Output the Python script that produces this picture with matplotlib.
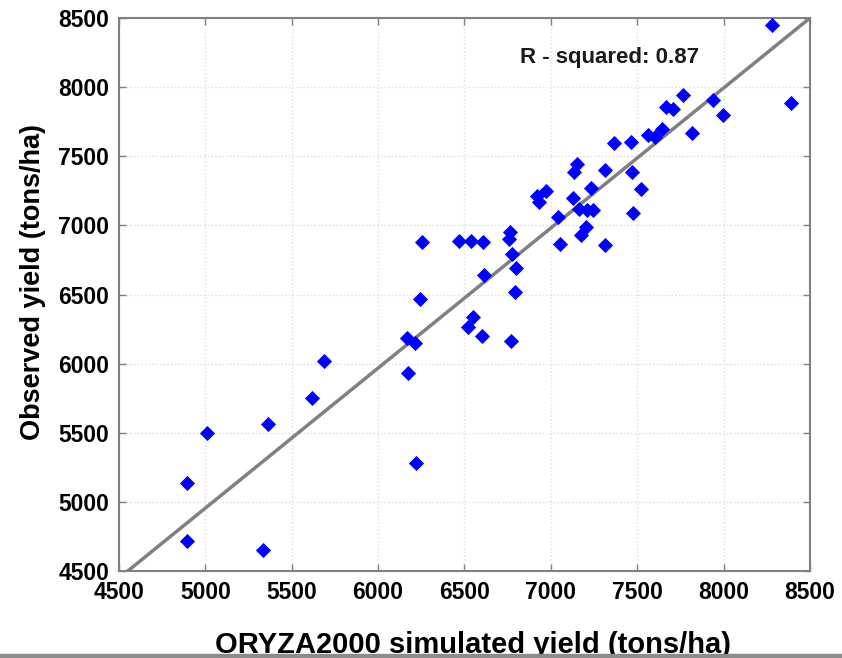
import numpy as np
import matplotlib
matplotlib.use('Agg')
import matplotlib.pyplot as plt
from matplotlib.patches import Rectangle

plt.rcParams['font.family'] = ['Liberation Sans', 'DejaVu Sans']

# simulated (x) vs observed (y) yield, tons/ha
simulated = [8278, 8390, 7940, 7998, 7765, 7668, 7705, 7815, 7642, 7564,
             7603, 7364, 7464, 7468, 7315, 7522, 7478, 7150, 7136, 6918,
             6933, 6974, 7130, 7234, 7041, 7165, 7207, 7246, 7205, 7174,
             7050, 7311, 6763, 6759, 6777, 6800, 6792, 6612, 6468, 6536,
             6605, 6255, 6242, 6548, 6520, 6604, 6767, 6169, 6213, 6171,
             5687, 5617, 5364, 5008, 4892, 4892, 5334, 6219]
observed = [8450, 7888, 7904, 7798, 7946, 7855, 7840, 7666, 7699, 7656,
            7638, 7597, 7601, 7384, 7400, 7264, 7090, 7445, 7385, 7210,
            7171, 7250, 7195, 7274, 7062, 7122, 7114, 7111, 6990, 6930,
            6868, 6858, 6955, 6905, 6796, 6692, 6518, 6641, 6887, 6887,
            6882, 6879, 6467, 6335, 6265, 6202, 6166, 6188, 6151, 5930,
            6021, 5751, 5565, 5500, 5139, 4717, 4652, 5279]

fit_slope = 1.013
fit_intercept = -110.0
r_squared = 0.87

xticks = [4500, 5000, 5500, 6000, 6500, 7000, 7500, 8000, 8500]
yticks = [4500, 5000, 5500, 6000, 6500, 7000, 7500, 8000, 8500]

fig = plt.figure(figsize=(8.42, 6.58), dpi=100)
ax = fig.add_axes([0.1413, 0.1322, 0.8207, 0.8404])

ax.grid(True, color='#dedede', linestyle=':', linewidth=1.0)
ax.set_axisbelow(True)

xl = np.array([4500, 8500])
ax.plot(xl, fit_slope * xl + fit_intercept, color='#808080', linewidth=2.5, zorder=2)
ax.plot(simulated, observed, linestyle='none', marker='D', markersize=6.8,
        color='#0000ff', markeredgecolor='#0000ff', markeredgewidth=0.6, zorder=3)

ax.set_xlim(4500, 8500)
ax.set_ylim(4500, 8500)
ax.set_xticks(xticks)
ax.set_yticks(yticks)
ax.tick_params(direction='in', top=True, right=True, length=5, width=1,
               color='#808080', labelsize=16.5, pad=7)
for lab in ax.get_xticklabels() + ax.get_yticklabels():
    lab.set_fontweight('bold')
for sp in ax.spines.values():
    sp.set_color('#808080')
    sp.set_linewidth(1.5)

ax.text(7337, 8211, 'R - squared: %.2f' % r_squared, ha='center', va='center',
        fontsize=16, fontweight='bold', color='#1a1a1a')

ax.set_xlabel('ORYZA2000 simulated yield (tons/ha)', fontsize=21, fontweight='bold')
ax.xaxis.set_label_coords(0.512, -0.108)
ax.set_ylabel('Observed yield (tons/ha)', fontsize=19.5, fontweight='bold')
ax.yaxis.set_label_coords(-0.105, 0.522)

# grey strip along the bottom edge
fig.patches.append(Rectangle((0, 0), 1, 0.006, transform=fig.transFigure,
                             color='#8c8c8c', zorder=10))

fig.savefig('out.png', dpi=100)
